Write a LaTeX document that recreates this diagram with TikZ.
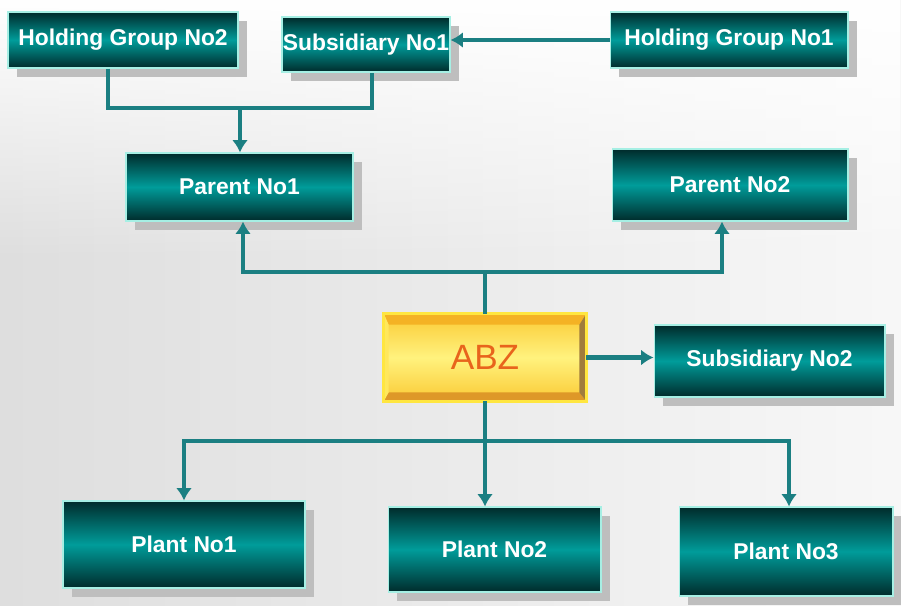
\documentclass[tikz,border=0pt]{standalone}
\usepackage{fontspec}
\setmainfont{Liberation Sans}
\usepackage{tikz}
\usetikzlibrary{arrows.meta, shadows, fadings}
\tikzset{>={Latex[width=9pt,length=7pt]}}
\definecolor{tealdark}{HTML}{002B2B}
\definecolor{tealmid}{HTML}{009C9A}
\definecolor{linkteal}{HTML}{1B7F82}
\definecolor{rimcyan}{HTML}{A6EFE4}
\definecolor{shadowgray}{HTML}{BEBEBE}
\definecolor{goldglow}{HTML}{FFE640}
\definecolor{goldtop}{HTML}{F4B224}
\definecolor{goldbottom}{HTML}{DE9828}
\definecolor{goldleft}{HTML}{FFE85C}
\definecolor{goldright}{HTML}{A07C3C}
\definecolor{goldface}{HTML}{FFF27E}
\definecolor{goldedge}{HTML}{FBCB36}
\definecolor{abztext}{HTML}{E8641C}
\tikzset{
  unit/.style={draw=rimcyan, line width=0.6pt, top color=tealdark, bottom color=tealdark,
    middle color=tealmid, text=white, font=\bfseries\fontsize{13}{15}\selectfont, inner sep=0pt,
    drop shadow={shadow xshift=5pt, shadow yshift=-5pt, fill=shadowgray, opacity=1}},
  core/.style={draw=goldglow, line width=1.6pt, top color=goldedge, bottom color=goldedge,
    middle color=goldface, inner sep=0pt},
  link/.style={draw=linkteal, line width=2.7pt},
}

\begin{document}
\begin{tikzpicture}[x=0.02cm, y=-0.02cm]
  \useasboundingbox (0,0) rectangle (901,605);
  % background
  \shade[left color=black!13, right color=black!3] (0,0) rectangle (901,605);
  \fill[white, path fading=south] (0,0) rectangle (901,260);

  % top row
  \node[unit, minimum width=4.6cm, minimum height=1.12cm] (hgtwo) at (123,40) {Holding Group No2};
  \node[unit, minimum width=3.36cm, minimum height=1.1cm] (subone) at (366,44.5) {Subsidiary No1};
  \node[unit, minimum width=4.76cm, minimum height=1.12cm] (hgone) at (729,40) {Holding Group No1};

  % parents
  \node[unit, minimum width=4.54cm, minimum height=1.36cm] (parone) at (239.5,187) {Parent No1};
  \node[unit, minimum width=4.72cm, minimum height=1.44cm] (partwo) at (730,185) {Parent No2};

  % company
  \node[core, minimum width=4cm, minimum height=1.7cm] (abz) at (485,357.5) {};
  \fill[goldtop] (abz.north west) -- (abz.north east) -- ([xshift=-0.14cm,yshift=-0.22cm]abz.north east)
    -- ([xshift=0.1cm,yshift=-0.22cm]abz.north west) -- cycle;
  \fill[goldbottom] (abz.south west) -- (abz.south east) -- ([xshift=-0.14cm,yshift=0.18cm]abz.south east)
    -- ([xshift=0.1cm,yshift=0.18cm]abz.south west) -- cycle;
  \fill[goldleft] (abz.north west) -- ([xshift=0.1cm,yshift=-0.22cm]abz.north west)
    -- ([xshift=0.1cm,yshift=0.18cm]abz.south west) -- (abz.south west) -- cycle;
  \fill[goldright] (abz.north east) -- ([xshift=-0.14cm,yshift=-0.22cm]abz.north east)
    -- ([xshift=-0.14cm,yshift=0.18cm]abz.south east) -- (abz.south east) -- cycle;
  \draw[goldglow, line width=1.6pt] (abz.north west) rectangle (abz.south east);
  \node[text=abztext, font=\fontsize{20}{22}\selectfont] (abzname) at (abz) {ABZ};

  \node[unit, minimum width=4.62cm, minimum height=1.44cm] (subtwo) at (769.5,361) {Subsidiary No2};

  % plants
  \node[unit, minimum width=4.84cm, minimum height=1.74cm] (plantone) at (184,544.5) {Plant No1};
  \node[unit, minimum width=4.26cm, minimum height=1.7cm] (planttwo) at (494.5,549.5) {Plant No2};
  \node[unit, minimum width=4.28cm, minimum height=1.78cm] (plantthree) at (786,551.5) {Plant No3};

  % connectors
  \coordinate (upjoin) at (240,108);
  \coordinate (midjoin) at (485,272);
  \coordinate (lowjoin) at (485,441);

  \draw[link, ->] (hgone.west) -- (subone.east |- hgone.west);
  \draw[link] ([xshift=-0.3cm]hgtwo.south) |- (upjoin) -| ([xshift=0.12cm]subone.south);
  \draw[link, ->] (upjoin) -- (upjoin |- parone.north);

  \draw[link] (abz.north) -- (midjoin);
  \draw[link, ->] (midjoin) -| ([xshift=0.07cm]parone.south);
  \draw[link, ->] (midjoin) -| ([xshift=-0.16cm]partwo.south);

  \draw[link, ->] (abz.east) -- (subtwo.west |- abz.east);

  \draw[link] (abz.south) -- (lowjoin);
  \draw[link, ->] (lowjoin) -| (plantone.north);
  \draw[link, ->] (lowjoin) -- (lowjoin |- planttwo.north);
  \draw[link, ->] (lowjoin) -| ([xshift=0.06cm]plantthree.north);
\end{tikzpicture}
\end{document}
